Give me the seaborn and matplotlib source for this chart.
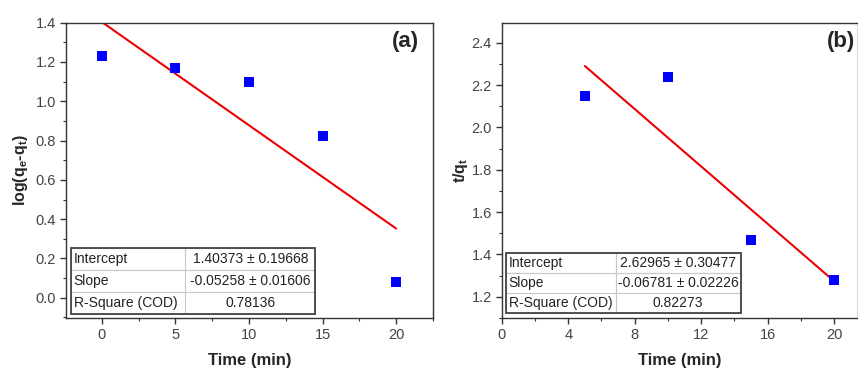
import matplotlib
matplotlib.use("Agg")
import matplotlib.pyplot as plt
import seaborn as sns
import pandas as pd
import numpy as np
from matplotlib.ticker import MultipleLocator
from matplotlib.patches import Rectangle

# ---- data ----
time_a = [0, 5, 10, 15, 20]
log_qe_qt = [1.232, 1.168, 1.098, 0.825, 0.081]
intercept_a, slope_a = 1.40373, -0.05258
fit_x_a = [0, 20]
table_a = [["Intercept", "1.40373 ± 0.19668"],
           ["Slope", "-0.05258 ± 0.01606"],
           ["R-Square (COD)", "0.78136"]]

time_b = [5, 10, 15, 20]
t_over_qt = [2.148, 2.238, 1.467, 1.279]
intercept_b, slope_b = 2.62965, -0.06781
fit_x_b = [5, 20]
table_b = [["Intercept", "2.62965 ± 0.30477"],
           ["Slope", "-0.06781 ± 0.02226"],
           ["R-Square (COD)", "0.82273"]]

xticks_a = [0, 5, 10, 15, 20]
yticks_a = [0.0, 0.2, 0.4, 0.6, 0.8, 1.0, 1.2, 1.4]
xticks_b = [0, 4, 8, 12, 16, 20]
yticks_b = [1.2, 1.4, 1.6, 1.8, 2.0, 2.2, 2.4]

sns.set_style("ticks")
plt.rcParams['font.family'] = ['Liberation Sans', 'DejaVu Sans']
plt.rcParams['mathtext.fontset'] = 'custom'
plt.rcParams['mathtext.rm'] = 'Liberation Sans'
plt.rcParams['mathtext.bf'] = 'Liberation Sans:bold'
plt.rcParams['mathtext.it'] = 'Liberation Sans:italic'

W, H = 858, 369
fig = plt.figure(figsize=(W / 100, H / 100), dpi=100)

def px_axes(x0, y0, x1, y1):
    return fig.add_axes([x0 / W, 1 - y1 / H, (x1 - x0) / W, (y1 - y0) / H])

ax_a = px_axes(65.7, 22.7, 433, 318)
ax_b = px_axes(501.7, 22.7, 857.5, 318)

tick_color = "#444444"
spine_color = "#333333"

def style(ax, xlim, ylim, xt, yt, xminor, yminor, fmt):
    ax.set_xlim(*xlim)
    ax.set_ylim(*ylim)
    ax.set_xticks(xt)
    ax.set_yticks(yt)
    ax.set_yticklabels([fmt.format(v) for v in yt])
    ax.xaxis.set_minor_locator(MultipleLocator(xminor))
    ax.yaxis.set_minor_locator(MultipleLocator(yminor))
    ax.tick_params(which='major', direction='out', length=4, width=1,
                   labelsize=10.5, colors=spine_color, labelcolor=tick_color, pad=3)
    ax.tick_params(which='minor', direction='out', length=2.2, width=0.8, colors=spine_color)
    for s in ax.spines.values():
        s.set_visible(True)
        s.set_color(spine_color)
        s.set_linewidth(1.0)

def draw_table(ax, rows, bbox, colw):
    tb = ax.table(cellText=rows, bbox=bbox, colWidths=colw, zorder=5)
    tb.auto_set_font_size(False)
    for (r, c), cell in tb.get_celld().items():
        cell.set_edgecolor("#c8c8c8")
        cell.set_linewidth(0.8)
        cell.set_facecolor("white")
        cell.get_text().set_fontsize(10)
        cell.get_text().set_color("#222222")
        if c == 0:
            cell.get_text().set_ha('left')
            cell.PAD = 0.025
        else:
            cell.get_text().set_ha('center')
    ax.add_patch(Rectangle((bbox[0], bbox[1]), bbox[2], bbox[3], transform=ax.transAxes,
                           fill=False, edgecolor="#444444", linewidth=1.3, zorder=6,
                           clip_on=False))

# ---- panel (a) ----
df_a = pd.DataFrame({"Time": time_a, "val": log_qe_qt})
fit_a = pd.DataFrame({"Time": fit_x_a,
                      "val": [intercept_a + slope_a * x for x in fit_x_a]})
sns.lineplot(data=fit_a, x="Time", y="val", ax=ax_a, color="#ee0000", linewidth=1.5)
sns.scatterplot(data=df_a, x="Time", y="val", ax=ax_a, marker='s', s=42,
                color="#0000ff", edgecolor="#0000ff", linewidth=0, zorder=4)
style(ax_a, (-2.45, 22.5), (-0.103, 1.4), xticks_a, yticks_a, 2.5, 0.1, "{:.1f}")
ax_a.set_xlabel("Time (min)", fontsize=12, fontweight='bold', labelpad=8)
ax_a.set_ylabel(r"log(q$_\mathbf{e}$-q$_\mathbf{t}$)", fontsize=11.5, fontweight='bold', labelpad=4)
ax_a.text(0.925, 0.935, "(a)", transform=ax_a.transAxes, fontsize=16, fontweight='bold',
          ha='center', va='center')
draw_table(ax_a, table_a, [0.0136, 0.0135, 0.666, 0.224], [0.469, 0.531])

# ---- panel (b) ----
df_b = pd.DataFrame({"Time": time_b, "val": t_over_qt})
fit_b = pd.DataFrame({"Time": fit_x_b,
                      "val": [intercept_b + slope_b * x for x in fit_x_b]})
sns.lineplot(data=fit_b, x="Time", y="val", ax=ax_b, color="#ee0000", linewidth=1.5)
sns.scatterplot(data=df_b, x="Time", y="val", ax=ax_b, marker='s', s=42,
                color="#0000ff", edgecolor="#0000ff", linewidth=0, zorder=4)
style(ax_b, (0, 21.4), (1.1, 2.495), xticks_b, yticks_b, 2, 0.1, "{:.1f}")
ax_b.set_xlabel("Time (min)", fontsize=12, fontweight='bold', labelpad=8)
ax_b.set_ylabel(r"t/q$_\mathbf{t}$", fontsize=11.5, fontweight='bold', labelpad=1)
ax_b.text(0.955, 0.935, "(b)", transform=ax_b.transAxes, fontsize=16, fontweight='bold',
          ha='center', va='center')
draw_table(ax_b, table_b, [0.012, 0.016, 0.660, 0.205], [0.467, 0.533])

fig.savefig("out.png", dpi=100, facecolor="white")
